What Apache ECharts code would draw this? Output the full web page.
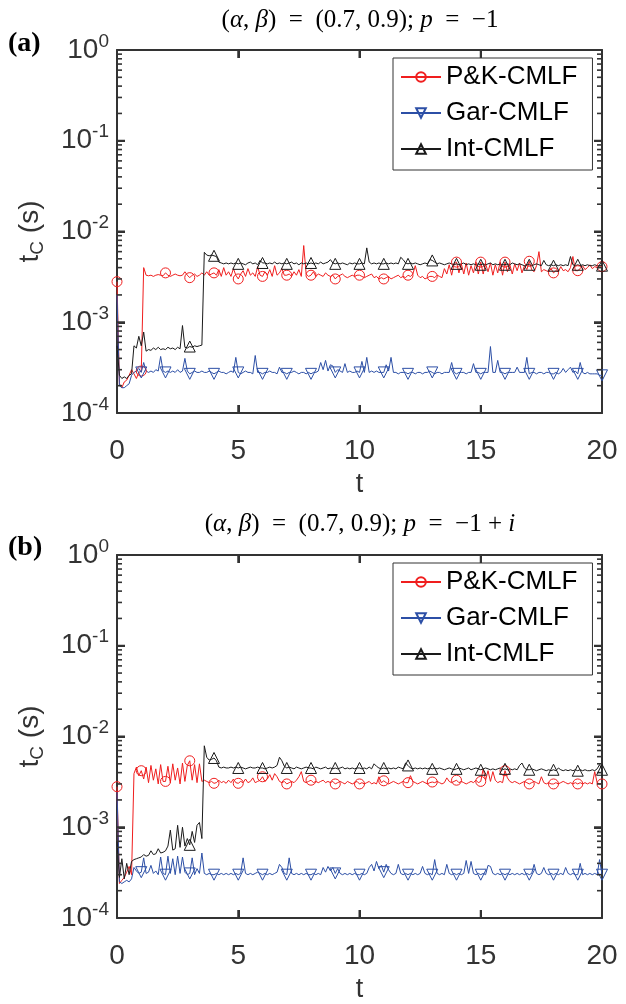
<!DOCTYPE html>
<html><head><meta charset="utf-8">
<script src="https://cdn.jsdelivr.net/npm/echarts@6/dist/echarts.min.js"></script>
<style>html,body{margin:0;padding:0;background:#fff}#c{width:626px;height:1004px}</style>
</head><body><div id="c"></div><script>
// time grid t = 0, 0.1, ..., 20
const tValues = Array.from({length: 201}, (_, i) => +(i / 10).toFixed(1));
const seriesNames = ['P&K-CMLF', 'Gar-CMLF', 'Int-CMLF'];
const xTicks = [0, 5, 10, 15, 20];
const yTickExps = [-4, -3, -2, -1, 0];

// ---- panel (a): p = -1, values in milliseconds ----
const pkA = [
 2.8,0.21,0.19,0.22,0.23,0.26,0.30,0.27,0.24,0.28,
 0.29,4.0,3.3,3.25,3.3,3.2,3.3,3.35,3.3,3.25,
 3.5,3.3,3.2,3.3,3.4,3.3,3.25,3.3,3.6,3.3,
 3.1,3.3,3.4,3.2,3.3,3.5,3.3,3.6,3.3,3.4,
 3.5,3.3,3.8,3.2,4.0,3.3,3.6,3.2,3.9,3.3,
 3.0,3.4,3.7,3.2,3.9,3.3,3.5,3.2,4.1,3.3,
 3.2,3.6,3.3,3.8,3.2,4.2,3.3,3.5,3.9,3.3,
 3.3,3.4,3.2,3.6,3.3,3.8,3.2,7.0,3.4,3.2,
 3.3,3.6,3.2,3.4,3.3,3.2,3.5,3.3,3.2,3.3,
 3.0,3.2,3.3,3.4,3.2,3.1,3.2,3.3,3.2,3.3,
 3.3,3.2,3.1,3.2,3.3,3.4,3.1,3.2,3.0,3.1,
 3.0,3.1,3.2,3.0,3.1,3.2,3.3,3.1,3.2,3.1,
 3.3,3.2,3.4,4.2,3.3,3.1,3.2,3.0,3.1,3.2,
 3.2,3.1,3.3,3.2,3.1,3.9,3.4,4.3,3.3,4.4,
 4.6,3.5,4.4,3.4,4.5,3.3,4.2,3.5,4.6,3.4,
 4.6,3.4,4.4,3.6,4.5,3.3,4.3,3.5,4.6,3.3,
 4.6,3.6,4.3,3.4,4.4,3.7,4.5,3.5,4.2,3.8,
 4.7,3.8,3.6,4.2,6.0,3.6,3.8,3.7,3.6,3.9,
 3.5,3.7,3.6,4.1,3.7,3.8,3.6,4.0,5.3,3.7,
 3.7,3.9,4.2,3.8,4.0,4.3,3.9,4.1,4.0,4.2,
 4.1];
const garA = [
 2.0,0.20,0.19,0.19,0.20,0.21,0.26,0.28,0.29,0.31,
 0.28,0.36,0.29,0.28,0.29,0.28,0.30,0.29,0.42,0.29,
 0.28,0.29,0.28,0.29,0.28,0.30,0.28,0.29,0.40,0.29,
 0.27,0.28,0.29,0.28,0.28,0.29,0.28,0.28,0.29,0.28,
 0.27,0.28,0.29,0.28,0.28,0.27,0.28,0.29,0.28,0.41,
 0.28,0.27,0.28,0.29,0.28,0.28,0.27,0.43,0.28,0.28,
 0.27,0.28,0.28,0.29,0.28,0.28,0.27,0.32,0.28,0.28,
 0.27,0.28,0.28,0.29,0.28,0.27,0.28,0.28,0.27,0.28,
 0.27,0.28,0.28,0.29,0.36,0.30,0.38,0.29,0.34,0.33,
 0.28,0.30,0.29,0.28,0.35,0.28,0.29,0.28,0.28,0.29,
 0.28,0.37,0.28,0.41,0.28,0.29,0.28,0.29,0.28,0.28,
 0.28,0.34,0.29,0.41,0.28,0.28,0.27,0.28,0.28,0.28,
 0.27,0.28,0.28,0.27,0.28,0.28,0.27,0.28,0.28,0.29,
 0.28,0.27,0.28,0.28,0.27,0.28,0.28,0.28,0.36,0.28,
 0.27,0.28,0.28,0.28,0.27,0.28,0.28,0.35,0.28,0.28,
 0.27,0.28,0.28,0.28,0.54,0.28,0.28,0.38,0.28,0.28,
 0.27,0.28,0.28,0.28,0.28,0.32,0.28,0.28,0.28,0.41,
 0.27,0.28,0.28,0.27,0.28,0.28,0.27,0.28,0.28,0.27,
 0.27,0.28,0.27,0.28,0.31,0.28,0.30,0.32,0.28,0.29,
 0.27,0.36,0.28,0.27,0.28,0.27,0.27,0.27,0.27,0.26,
 0.26];
const intA = [
 0.55,0.26,0.24,0.25,0.24,0.26,0.27,0.55,0.52,0.70,
 0.55,0.78,0.48,0.50,0.49,0.52,0.50,0.53,0.50,0.51,
 0.50,0.53,0.51,0.52,0.50,0.53,0.51,0.92,0.53,0.52,
 0.54,0.53,0.55,0.54,0.55,0.56,5.9,5.5,5.4,5.5,
 5.4,5.3,4.6,4.5,4.4,4.5,4.4,4.5,4.4,4.5,
 4.4,4.5,4.4,4.3,4.5,4.6,4.4,4.5,4.3,4.8,
 4.5,4.5,4.4,4.5,4.4,4.6,4.4,4.5,4.4,4.5,
 4.4,4.5,4.6,4.4,4.5,4.3,4.5,4.4,4.5,4.4,
 4.5,4.4,4.5,4.4,4.6,4.4,4.5,4.6,4.9,4.5,
 4.4,4.5,4.4,4.5,4.4,4.3,4.5,4.4,4.5,4.4,
 4.4,4.5,4.4,6.6,4.6,4.4,4.5,4.4,4.5,4.4,
 4.4,4.5,4.4,4.5,4.4,4.5,4.4,5.2,4.9,4.5,
 4.4,4.5,4.4,4.5,4.4,4.3,4.4,4.5,4.4,4.9,
 4.8,4.6,4.4,4.5,4.4,4.3,4.4,4.5,4.4,4.3,
 4.4,4.3,4.4,4.5,4.3,4.4,4.3,4.4,4.3,4.4,
 4.3,4.4,4.3,4.4,4.5,4.3,4.4,4.3,4.4,4.3,
 4.3,4.4,4.3,4.5,4.4,4.3,4.4,4.3,4.2,4.3,
 4.3,4.2,4.3,4.4,4.3,4.2,4.8,4.3,4.2,4.3,
 4.2,4.3,4.2,4.3,4.2,4.3,4.2,5.3,4.3,4.2,
 4.3,4.2,4.3,4.2,4.3,4.2,4.2,4.3,4.2,4.2,
 4.2];

// ---- panel (b): p = -1 + i, values in milliseconds ----
const pkB = [
 2.8,0.24,0.26,0.28,0.32,0.37,0.30,3.9,4.6,3.7,
 4.2,3.4,4.6,3.1,4.8,3.3,4.4,3.0,4.9,3.2,
 3.2,4.7,3.1,5.0,3.3,4.5,3.0,5.1,3.2,4.8,
 5.4,3.3,4.9,3.1,5.0,3.2,3.3,3.2,3.1,3.2,
 3.05,3.1,3.3,3.1,3.2,3.05,3.3,3.1,3.4,3.1,
 3.05,3.2,3.1,3.4,3.1,3.2,3.5,3.1,3.2,3.3,
 3.6,3.2,3.4,3.8,3.3,3.9,3.6,3.2,3.1,3.2,
 3.0,3.1,3.2,3.1,3.3,3.6,4.1,3.2,3.1,3.2,
 3.3,3.1,3.2,3.1,3.2,3.3,3.1,3.2,3.1,3.2,
 3.0,3.1,3.2,3.1,3.0,3.2,3.1,3.0,3.1,3.2,
 3.0,3.1,3.0,3.1,3.2,3.0,3.1,3.0,3.6,3.1,
 3.25,3.1,3.0,3.1,3.2,3.1,3.0,3.1,3.2,3.1,
 3.1,3.7,3.2,3.1,3.0,3.1,3.2,3.1,3.0,3.1,
 3.15,3.1,3.2,3.1,3.0,3.1,3.5,3.2,3.1,3.2,
 3.3,3.1,3.2,3.1,3.0,3.1,3.2,3.1,3.3,3.1,
 3.2,4.4,3.3,4.2,3.2,4.1,3.3,3.1,3.2,3.1,
 4.2,3.5,3.2,3.1,3.2,3.1,3.0,3.1,3.2,3.1,
 3.0,3.1,3.2,3.1,3.0,3.6,3.1,3.0,3.1,3.0,
 3.0,3.1,3.0,3.1,3.2,3.1,3.0,3.1,3.0,3.1,
 3.0,3.1,3.0,3.1,3.0,3.1,3.0,4.1,3.1,3.0,
 3.0];
const garB = [
 2.5,0.25,0.24,0.25,0.26,0.25,0.27,0.36,0.33,0.31,
 0.32,0.46,0.31,0.32,0.38,0.31,0.33,0.30,0.47,0.31,
 0.30,0.48,0.31,0.45,0.30,0.48,0.31,0.47,0.32,0.30,
 0.31,0.46,0.30,0.35,0.31,0.52,0.31,0.30,0.31,0.30,
 0.30,0.31,0.30,0.31,0.30,0.31,0.30,0.31,0.30,0.31,
 0.30,0.31,0.46,0.31,0.30,0.31,0.30,0.31,0.32,0.31,
 0.30,0.31,0.30,0.31,0.30,0.31,0.32,0.39,0.36,0.31,
 0.30,0.46,0.31,0.30,0.31,0.30,0.31,0.30,0.31,0.30,
 0.30,0.31,0.30,0.31,0.30,0.36,0.32,0.37,0.33,0.36,
 0.31,0.35,0.31,0.30,0.31,0.30,0.31,0.30,0.31,0.30,
 0.30,0.31,0.30,0.31,0.36,0.39,0.33,0.42,0.35,0.38,
 0.32,0.39,0.34,0.31,0.30,0.31,0.39,0.31,0.30,0.31,
 0.30,0.31,0.30,0.31,0.30,0.31,0.37,0.31,0.30,0.31,
 0.30,0.44,0.31,0.30,0.31,0.30,0.39,0.31,0.30,0.31,
 0.30,0.31,0.30,0.31,0.43,0.31,0.42,0.31,0.30,0.31,
 0.30,0.31,0.30,0.38,0.37,0.31,0.30,0.31,0.30,0.31,
 0.30,0.31,0.30,0.31,0.30,0.31,0.30,0.31,0.30,0.31,
 0.30,0.31,0.39,0.31,0.30,0.31,0.36,0.31,0.30,0.31,
 0.30,0.31,0.30,0.31,0.30,0.36,0.31,0.30,0.31,0.30,
 0.30,0.40,0.30,0.31,0.30,0.31,0.30,0.31,0.30,0.44,
 0.30];
const intB = [
 0.70,0.28,0.45,0.27,0.40,0.30,0.42,0.44,0.45,0.46,
 0.47,0.50,0.48,0.49,0.55,0.50,0.51,0.58,0.52,0.53,
 0.55,0.62,0.93,0.56,0.58,1.05,0.60,1.0,0.62,0.75,
 0.64,0.90,0.68,1.05,1.13,0.75,7.9,5.9,5.5,5.6,
 5.8,5.4,4.6,4.5,4.6,4.5,4.5,4.6,4.5,4.6,
 4.5,4.6,4.5,4.4,4.5,4.6,4.5,4.5,4.6,4.5,
 4.5,4.4,4.5,4.6,4.5,4.6,4.8,5.9,5.4,4.7,
 4.5,4.6,4.5,4.4,4.6,4.5,4.4,4.5,4.6,4.5,
 4.5,4.4,4.6,4.5,4.4,4.5,4.6,4.4,4.5,4.4,
 4.5,4.4,4.5,4.6,4.4,4.5,4.4,4.5,4.4,4.5,
 4.5,4.4,4.5,4.4,4.6,4.4,5.0,4.7,4.5,4.4,
 4.5,4.4,4.5,4.4,4.5,4.4,4.6,4.5,4.4,5.1,
 4.8,4.5,4.4,4.5,4.4,4.5,4.4,4.5,4.4,4.5,
 4.4,4.5,4.4,4.5,4.4,4.3,4.4,4.5,4.4,4.3,
 4.4,4.5,4.4,4.3,4.4,4.5,4.3,4.4,4.5,4.4,
 4.3,4.4,4.5,4.4,4.3,4.4,4.3,4.4,4.5,4.3,
 4.4,4.3,4.4,4.3,4.4,4.3,4.8,5.1,4.5,4.3,
 4.3,4.4,4.3,4.2,4.3,4.4,4.3,4.2,4.3,4.2,
 4.3,4.2,4.5,4.3,4.2,4.3,4.2,4.3,4.2,4.3,
 4.2,4.3,4.2,4.3,4.2,4.2,4.3,4.2,4.4,4.9,
 4.3];

const colors = { pk: '#f01e1e', gar: '#2c4fa6', int: '#1a1a1a' };
const AX = '#333333';
const SANS = '"Liberation Sans", Arial, sans-serif';
const SERIF = '"Liberation Serif", "Times New Roman", serif';

const grids = [
  { left: 117, top: 50, width: 485, height: 363 },
  { left: 117, top: 555, width: 485, height: 372 }
];

const majorTick = { show: true, inside: true, length: 8, lineStyle: { color: AX, width: 2 } };

const xAxes = [], yAxes = [];
grids.forEach((g, gi) => {
  xAxes.push({
    type: 'value', gridIndex: gi, min: 0, max: 20, interval: 5, position: 'bottom',
    axisLine: { show: true, onZero: false, lineStyle: { color: AX, width: 2 } },
    axisTick: majorTick,
    axisLabel: { color: '#333', fontSize: 28, fontFamily: SANS, margin: 24 },
    splitLine: { show: false },
    name: 't', nameLocation: 'middle', nameGap: 58,
    nameTextStyle: { color: '#333', fontSize: 27, fontFamily: SANS }
  });
  xAxes.push({
    type: 'value', gridIndex: gi, min: 0, max: 20, interval: 5, position: 'top',
    axisLine: { show: true, onZero: false, lineStyle: { color: AX, width: 2 } },
    axisTick: majorTick,
    axisLabel: { show: false }, splitLine: { show: false }
  });
  yAxes.push({
    type: 'log', logBase: 10, gridIndex: gi, min: 1e-4, max: 1, position: 'left',
    axisLine: { show: true, onZero: false, lineStyle: { color: AX, width: 2 } },
    axisTick: majorTick,
    axisLabel: {
      color: '#333', fontFamily: SANS, margin: 8,
      formatter: v => '{b|10}{s|' + Math.round(Math.log10(v)) + '}',
      rich: {
        b: { fontSize: 28, lineHeight: 36, fontFamily: SANS, color: '#333' },
        s: { fontSize: 19, lineHeight: 19, verticalAlign: 'top', fontFamily: SANS, color: '#333' }
      }
    },
    splitLine: { show: false },
    name: '{t|t}{c|C}{t| (s)}', nameLocation: 'middle', nameGap: 70, nameRotate: 90,
    nameTextStyle: {
      rich: {
        t: { fontSize: 28, lineHeight: 34, fontFamily: SANS, color: '#333' },
        c: { fontSize: 19, lineHeight: 19, verticalAlign: 'bottom', fontFamily: SANS, color: '#333' }
      }
    }
  });
  yAxes.push({
    type: 'log', logBase: 10, gridIndex: gi, min: 1e-4, max: 1, position: 'right',
    axisLine: { show: true, onZero: false, lineStyle: { color: AX, width: 2 } },
    axisTick: majorTick,
    axisLabel: { show: false }, splitLine: { show: false }
  });
});

// marker start index per series (markers every 1 s)
const markerFrom = [0, 10, 30];

function mk(k, vals, gi, color, symbol, rotate) {
  return {
    type: 'line', name: seriesNames[k], xAxisIndex: gi * 2, yAxisIndex: gi * 2,
    data: vals.map((v, i) => (i % 10 === 0 && i >= markerFrom[k]) ? [tValues[i], v / 1000]
                                          : { value: [tValues[i], v / 1000], symbol: 'none' }),
    symbol, symbolSize: symbol === 'circle' ? 10 : 11, symbolRotate: rotate || 0,
    showAllSymbol: true, animation: false,
    lineStyle: { color, width: 1 },
    itemStyle: { color: 'rgba(255,255,255,0)', borderColor: color, borderWidth: 1 },
    emphasis: { disabled: true }
  };
}

const series = [
  mk(0, pkA, 0, colors.pk, 'circle'),
  mk(1, garA, 0, colors.gar, 'triangle', 180),
  mk(2, intA, 0, colors.int, 'triangle'),
  mk(0, pkB, 1, colors.pk, 'circle'),
  mk(1, garB, 1, colors.gar, 'triangle', 180),
  mk(2, intB, 1, colors.int, 'triangle')
];

function legendAt(top) {
  return {
    orient: 'vertical', left: 393, top, data: seriesNames,
    itemWidth: 40, itemHeight: 12, itemGap: 10,
    padding: [6, 15, 8, 7],
    borderColor: '#333', borderWidth: 1, backgroundColor: '#fff',
    textStyle: { fontSize: 26, fontFamily: SANS, color: '#000', lineHeight: 24 },
    selectedMode: false
  };
}

const titleRich = {
  i: { fontFamily: SERIF, fontStyle: 'italic', fontSize: 25, fill: '#000' }
};

const textGraphics = [
  { type: 'text', left: 8, top: 30, style: { text: '(a)', font: 'bold 28px ' + SERIF, fill: '#000' } },
  { type: 'text', left: 8, top: 534, style: { text: '(b)', font: 'bold 28px ' + SERIF, fill: '#000' } },
  { type: 'text', x: 360, y: 20, style: { text: '({i|α}, {i|β})  =  (0.7, 0.9); {i|p}  =  −1', font: '25px ' + SERIF, fill: '#000', align: 'center', verticalAlign: 'middle', rich: titleRich } },
  { type: 'text', x: 360, y: 524, style: { text: '({i|α}, {i|β})  =  (0.7, 0.9); {i|p}  =  −1 + {i|i}', font: '25px ' + SERIF, fill: '#000', align: 'center', verticalAlign: 'middle', rich: titleRich } }
];

const chart = echarts.init(document.getElementById('c'), null, { renderer: 'canvas' });
chart.setOption({
  animation: false,
  backgroundColor: '#fff',
  grid: grids,
  xAxis: xAxes,
  yAxis: yAxes,
  legend: [legendAt(58), legendAt(563)],
  series,
  graphic: textGraphics
});

// box ticks (inward), placed through the axes' own scales
const tickGraphics = [];
function seg(x1, y1, x2, y2, w) {
  if (![x1, y1, x2, y2].every(Number.isFinite)) return;
  tickGraphics.push({ type: 'line', silent: true, z: 50,
    shape: { x1, y1, x2, y2 }, style: { stroke: AX, lineWidth: w } });
}
[0, 1].forEach(gi => {
  const xa = { xAxisIndex: gi * 2 }, ya = { yAxisIndex: gi * 2 };
  const xL = chart.convertToPixel(xa, 0), xR = chart.convertToPixel(xa, 20);
  const yB = chart.convertToPixel(ya, 1e-4), yT = chart.convertToPixel(ya, 1);
  xTicks.slice(1, -1).forEach(v => {
    const x = chart.convertToPixel(xa, v);
    seg(x, yB, x, yB - 8, 2);
    seg(x, yT, x, yT + 8, 2);
  });
  yTickExps.forEach((e, idx) => {
    const y = chart.convertToPixel(ya, Math.pow(10, e));
    if (idx > 0 && idx < yTickExps.length - 1) {
      seg(xL, y, xL + 8, y, 2);
      seg(xR, y, xR - 8, y, 2);
    }
    if (e < 0) {
      for (let k = 2; k <= 9; k++) {
        const ym = chart.convertToPixel(ya, k * Math.pow(10, e));
        seg(xL, ym, xL + 5, ym, 1.6);
        seg(xR, ym, xR - 5, ym, 1.6);
      }
    }
  });
});
chart.setOption({ graphic: textGraphics.concat(tickGraphics) });
</script></body></html>
